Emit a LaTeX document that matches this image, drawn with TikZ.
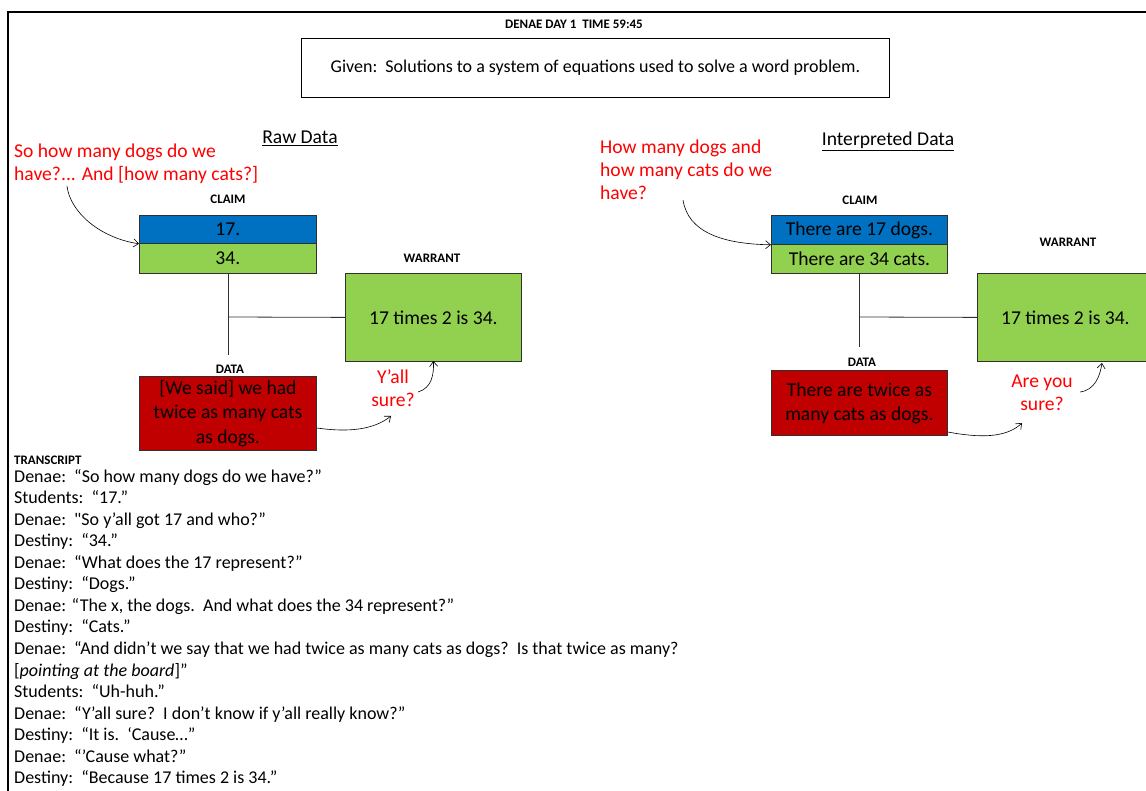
\documentclass[tikz,border=0pt]{standalone}
\usepackage{fontspec}
\setmainfont{Carlito}
% same face without the TeX quote mapping, for a straight double quote
\newfontfamily\plainquotes{Carlito}
\usetikzlibrary{arrows.meta}

\definecolor{claimblue}{HTML}{0070C0}
\definecolor{claimgreen}{HTML}{92D050}
\definecolor{datared}{HTML}{C00000}
\definecolor{asktext}{HTML}{FF0000}
\definecolor{edge}{HTML}{303030}

\begin{document}
\begin{tikzpicture}[x=1pt,y=-1pt,
  panel/.style={draw=edge, line width=0.8pt, inner sep=0pt, anchor=north west,
                minimum width=177pt, align=center,
                font=\fontsize{19.6}{24.5}\selectfont},
  tag/.style={font=\bfseries\fontsize{13}{15}\selectfont, inner sep=0pt},
  ask/.style={text=asktext, inner sep=0pt, font=\fontsize{19.6}{23}\selectfont},
  heading/.style={inner sep=0pt, font=\fontsize{19.6}{22}\selectfont},
  talk/.style={inner sep=0pt, anchor=base west, font=\fontsize{18}{21}\selectfont},
  link/.style={draw=edge, line width=0.8pt},
  prompt/.style={draw=black, line width=0.6pt, -{Straight Barb[length=5pt,width=8pt]}}
]
\useasboundingbox (0,0) rectangle (1146,791);

% page frame
\draw[line width=2.6pt] (1146,12) -- (8,12) -- (8,791);

% header and given statement
\node[tag] (title) at (574,24) {DENAE DAY 1\ \ TIME 59:45};
\node[draw=black, line width=0.8pt, minimum width=588pt, minimum height=59pt,
      anchor=north west, inner sep=0pt, font=\fontsize{18}{21}\selectfont]
      (given) at (301,38) {Given:\ \ Solutions to a system of equations used to solve a word problem.};

% ---------- raw data ----------
\node[heading] (rawhead) at (300,138) {\underline{Raw Data}};
\node[ask, anchor=west, align=left] (rawask) at (14,164)
  {So how many dogs do we\\have?... And [how many cats?]};

\node[tag] (rawclaimtag) at (228,199) {CLAIM};
\node[panel, fill=claimblue, minimum height=28pt] (rawc1) at (139,215) {17.};
\node[panel, fill=claimgreen, minimum height=30pt] (rawc2) at (139,243) {34.};

\node[tag] (rawwarranttag) at (432,258) {WARRANT};
\node[panel, fill=claimgreen, minimum width=176pt, minimum height=88pt] (raww) at (345,273) {17 times 2 is 34.};

\node[tag] (rawdatatag) at (230,369) {DATA};
\node[panel, fill=datared, minimum height=74pt] (rawd) at (139,376)
  {[We said] we had\\twice as many cats\\as dogs.};

\node[ask, align=center] (rawsure) at (393,388.5) {Y’all\\sure?};

\coordinate (rawstem) at (rawc2.south |- 0,355);
\coordinate (rawjoin) at (rawc2.south |- 0,317);
\draw[link] (rawc2.south) -- (rawstem);
\draw[link] (rawjoin) -- (raww.west);

\coordinate (rawaskfoot) at (67,186);
\draw[prompt] (rawaskfoot) .. controls (70,212) and (100,238) .. (rawc1.south west);
\coordinate (rawsurein) at (391,416);
\draw[prompt] (rawd.east |- 0,428) .. controls (345,432) and (372,431) .. (rawsurein);
\coordinate (rawsureout) at (418,392);
\draw[prompt] (rawsureout) .. controls (432,388) and (434,374) .. (raww.south |- 0,361);

% ---------- interpreted data ----------
\node[heading] (inthead) at (888,141) {\underline{Interpreted Data}};
\node[ask, anchor=west, align=left] (intask) at (600,170)
  {How many dogs and\\how many cats do we\\have?};

\node[tag] (intclaimtag) at (860,200) {CLAIM};
\node[panel, fill=claimblue, minimum width=176pt, minimum height=29pt] (intc1) at (771,215) {There are 17 dogs.};
\node[panel, fill=claimgreen, minimum width=176pt, minimum height=29pt] (intc2) at (771,244) {There are 34 cats.};

\node[tag] (intwarranttag) at (1068,242) {WARRANT};
\node[panel, fill=claimgreen, minimum width=176pt, minimum height=88pt] (intw) at (977,273) {17 times 2 is 34.};

\node[tag] (intdatatag) at (862,362) {DATA};
\node[panel, fill=datared, minimum width=176pt, minimum height=65pt,
      font=\fontsize{19.6}{24}\selectfont] (intd) at (771,370)
  {There are twice as\\many cats as dogs.};

\node[ask, align=center] (intsure) at (1042,393) {Are you\\sure?};

\coordinate (intstem) at (intc2.south |- 0,347);
\coordinate (intjoin) at (intc2.south |- 0,317);
\draw[link] (intc2.south) -- (intstem);
\draw[link] (intjoin) -- (intw.west);

\coordinate (intaskfoot) at (683,200);
\draw[prompt] (intaskfoot) .. controls (688,232) and (722,244) .. (intc1.south west);
\coordinate (intsurein) at (1022,423);
\draw[prompt] (intd.east |- 0,432) .. controls (980,438) and (1006,438) .. (intsurein);
\coordinate (intsureout) at (1080,392);
\draw[prompt] (intsureout) .. controls (1095,390) and (1100,376) .. (1102,363);

% ---------- transcript ----------
\node[tag, anchor=west] (transtag) at (14,460) {TRANSCRIPT};
\foreach \line [count=\i from 0] in {
  {Denae:\ \ “So how many dogs do we have?”},
  {Students:\ \ “17.”},
  {Denae:\ \ {\plainquotes"}So y’all got 17 and who?”},
  {Destiny:\ \ “34.”},
  {Denae:\ \ “What does the 17 represent?”},
  {Destiny:\ \ “Dogs.”},
  {Denae: “The x, the dogs.\ \ And what does the 34 represent?”},
  {Destiny:\ \ “Cats.”},
  {Denae:\ \ “And didn’t we say that we had twice as many cats as dogs?\ \ Is that twice as many?},
  {[\textit{pointing at the board}]”},
  {Students:\ \ “Uh-huh.”},
  {Denae:\ \ “Y’all sure?\ \ I don’t know if y’all really know?”},
  {Destiny:\ \ “It is.\ \ ‘Cause…”},
  {Denae:\ \ “’Cause what?”},
  {Destiny:\ \ “Because 17 times 2 is 34.”}}
  \node[talk] (say\i) at (14,{482+21.57*\i}) {\line};
\end{tikzpicture}
\end{document}
